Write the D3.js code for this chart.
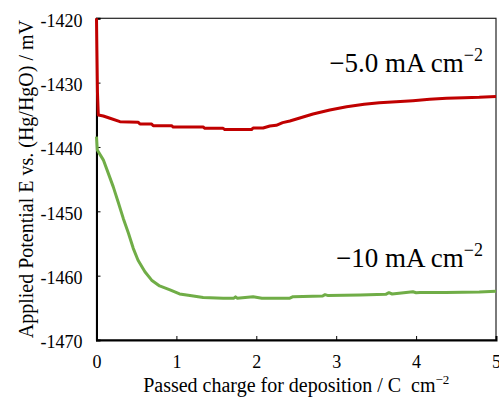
<!DOCTYPE html>
<html>
<head>
<meta charset="utf-8">
<script src="https://cdn.jsdelivr.net/npm/d3@7"></script>
<style>
  html, body { margin: 0; padding: 0; background: #fff; }
  svg { display: block; font-family: "Liberation Serif", "Times New Roman", serif; }
</style>
</head>
<body>
<svg id="chart" width="499" height="399"></svg>
<script>
// Passed charge (C cm^-2) and applied potential (mV vs. Hg/HgO)
const chargeLow = [0.0, 0.005, 0.012, 0.0225, 0.085, 0.169, 0.294, 0.523, 0.544, 0.69, 0.71, 0.94, 0.96,
  1.335, 1.356, 1.585, 1.606, 1.94, 1.96, 2.085, 2.17, 2.25, 2.33, 2.42, 2.71, 2.92, 3.13, 3.35, 3.54,
  3.75, 3.96, 4.17, 4.38, 4.6, 4.79, 5.0];
const potentialLow = [-1420.0, -1425.0, -1431.5, -1435.03, -1435.19, -1435.54, -1436.07, -1436.17, -1436.43,
  -1436.43, -1436.69, -1436.69, -1436.9, -1436.9, -1437.1, -1437.1, -1437.3, -1437.3, -1437.05, -1437.05,
  -1436.74, -1436.63, -1436.22, -1435.96, -1434.87, -1434.25, -1433.74, -1433.37, -1433.11, -1432.96,
  -1432.8, -1432.59, -1432.43, -1432.34, -1432.28, -1432.15];

const chargeHigh = [0.0, 0.01, 0.085, 0.148, 0.21, 0.27, 0.335, 0.4, 0.46, 0.52, 0.606, 0.69, 0.79, 0.92,
  1.04, 1.17, 1.335, 1.585, 1.72, 1.74, 1.76, 1.96, 2.07, 2.42, 2.46, 2.83, 2.86, 2.9, 3.3, 3.62, 3.66,
  3.7, 3.96, 4.0, 4.05, 4.37, 4.79, 5.0];
const potentialHigh = [-1438.4, -1440.47, -1442.0, -1444.1, -1446.2, -1448.5, -1451.1, -1453.4, -1455.75,
  -1457.6, -1459.4, -1460.7, -1461.6, -1462.2, -1462.85, -1463.1, -1463.4, -1463.5, -1463.5, -1463.3,
  -1463.5, -1463.27, -1463.5, -1463.5, -1463.27, -1463.16, -1462.95, -1463.1, -1463.0, -1462.9, -1462.65,
  -1462.85, -1462.5, -1462.65, -1462.6, -1462.6, -1462.54, -1462.43];

const xTicks = [0, 1, 2, 3, 4, 5];
const yTicks = [-1420, -1430, -1440, -1450, -1460, -1470];

const seriesLabels = ["\u22125.0 mA cm", "\u221210 mA cm"];
const seriesColors = ["#C00000", "#70AD47"];

const serif = "'Liberation Serif', 'Times New Roman', serif";
const svg = d3.select("#chart");
const plotLeft = 96.5, plotRight = 496, plotTop = 18.3, plotBottom = 340;

const x = d3.scaleLinear().domain([0, 5]).range([plotLeft, plotRight]);
const y = d3.scaleLinear().domain([-1470, -1420]).range([plotBottom, plotTop]);

// frame (top and right edges)
svg.append("rect")
  .attr("x", plotLeft).attr("y", plotTop)
  .attr("width", plotRight - plotLeft).attr("height", plotBottom - plotTop)
  .attr("fill", "none").attr("stroke", "#222").attr("stroke-width", 1.2);

// axes with inward ticks
const xAxis = d3.axisBottom(x).tickValues(xTicks).tickSize(-4).tickPadding(15)
  .tickFormat(d => String(d));
const yAxis = d3.axisLeft(y).tickValues(yTicks).tickSize(-4).tickPadding(14)
  .tickFormat(d => String(d));

const gx = svg.append("g").attr("transform", `translate(0,${plotBottom})`).call(xAxis);
const gy = svg.append("g").attr("transform", `translate(${plotLeft},0)`).call(yAxis);

[gx, gy].forEach(g => {
  g.attr("font-family", serif);
  g.select(".domain").attr("stroke", "#000").attr("stroke-width", 2);
  g.selectAll(".tick line").attr("stroke", "#000").attr("stroke-width", 1);
  g.selectAll(".tick text")
    .attr("fill", "#000")
    .style("font-family", serif)
    .style("font-size", "18px");
});
gy.selectAll(".tick text").attr("dy", "0.43em");

// data lines
const line = d3.line().x(d => x(d[0])).y(d => y(d[1]));
const seriesData = [
  d3.zip(chargeLow, potentialLow),
  d3.zip(chargeHigh, potentialHigh)
];
seriesData.forEach((pts, i) => {
  svg.append("path")
    .datum(pts)
    .attr("d", line)
    .attr("fill", "none")
    .attr("stroke", seriesColors[i])
    .attr("stroke-width", 3)
    .attr("stroke-linejoin", "round");
});

// series labels
const labelBaselines = [71.7, 266.7];
seriesLabels.forEach((t, i) => {
  const txt = svg.append("text")
    .attr("x", 483).attr("y", labelBaselines[i])
    .attr("text-anchor", "end")
    .style("font-family", serif)
    .style("font-size", "27px")
    .attr("fill", "#000");
  txt.append("tspan").text(t);
  txt.append("tspan").attr("dy", -11).style("font-size", "18px").text("\u22122");
});

// axis titles
const xt = svg.append("text")
  .attr("x", (plotLeft + plotRight) / 2).attr("y", 392)
  .attr("text-anchor", "middle")
  .style("font-family", serif)
  .style("font-size", "20px").attr("fill", "#000");
xt.append("tspan").text("Passed charge for deposition / C\u00a0 cm");
xt.append("tspan").attr("dy", -8).style("font-size", "13px").text("\u22122");

svg.append("text")
  .attr("transform", `translate(33,${(plotTop + plotBottom) / 2}) rotate(-90)`)
  .attr("text-anchor", "middle")
  .style("font-family", serif)
  .style("font-size", "20px").attr("fill", "#000")
  .text("Applied Potential E vs. (Hg/HgO) / mV");
</script>
</body>
</html>
